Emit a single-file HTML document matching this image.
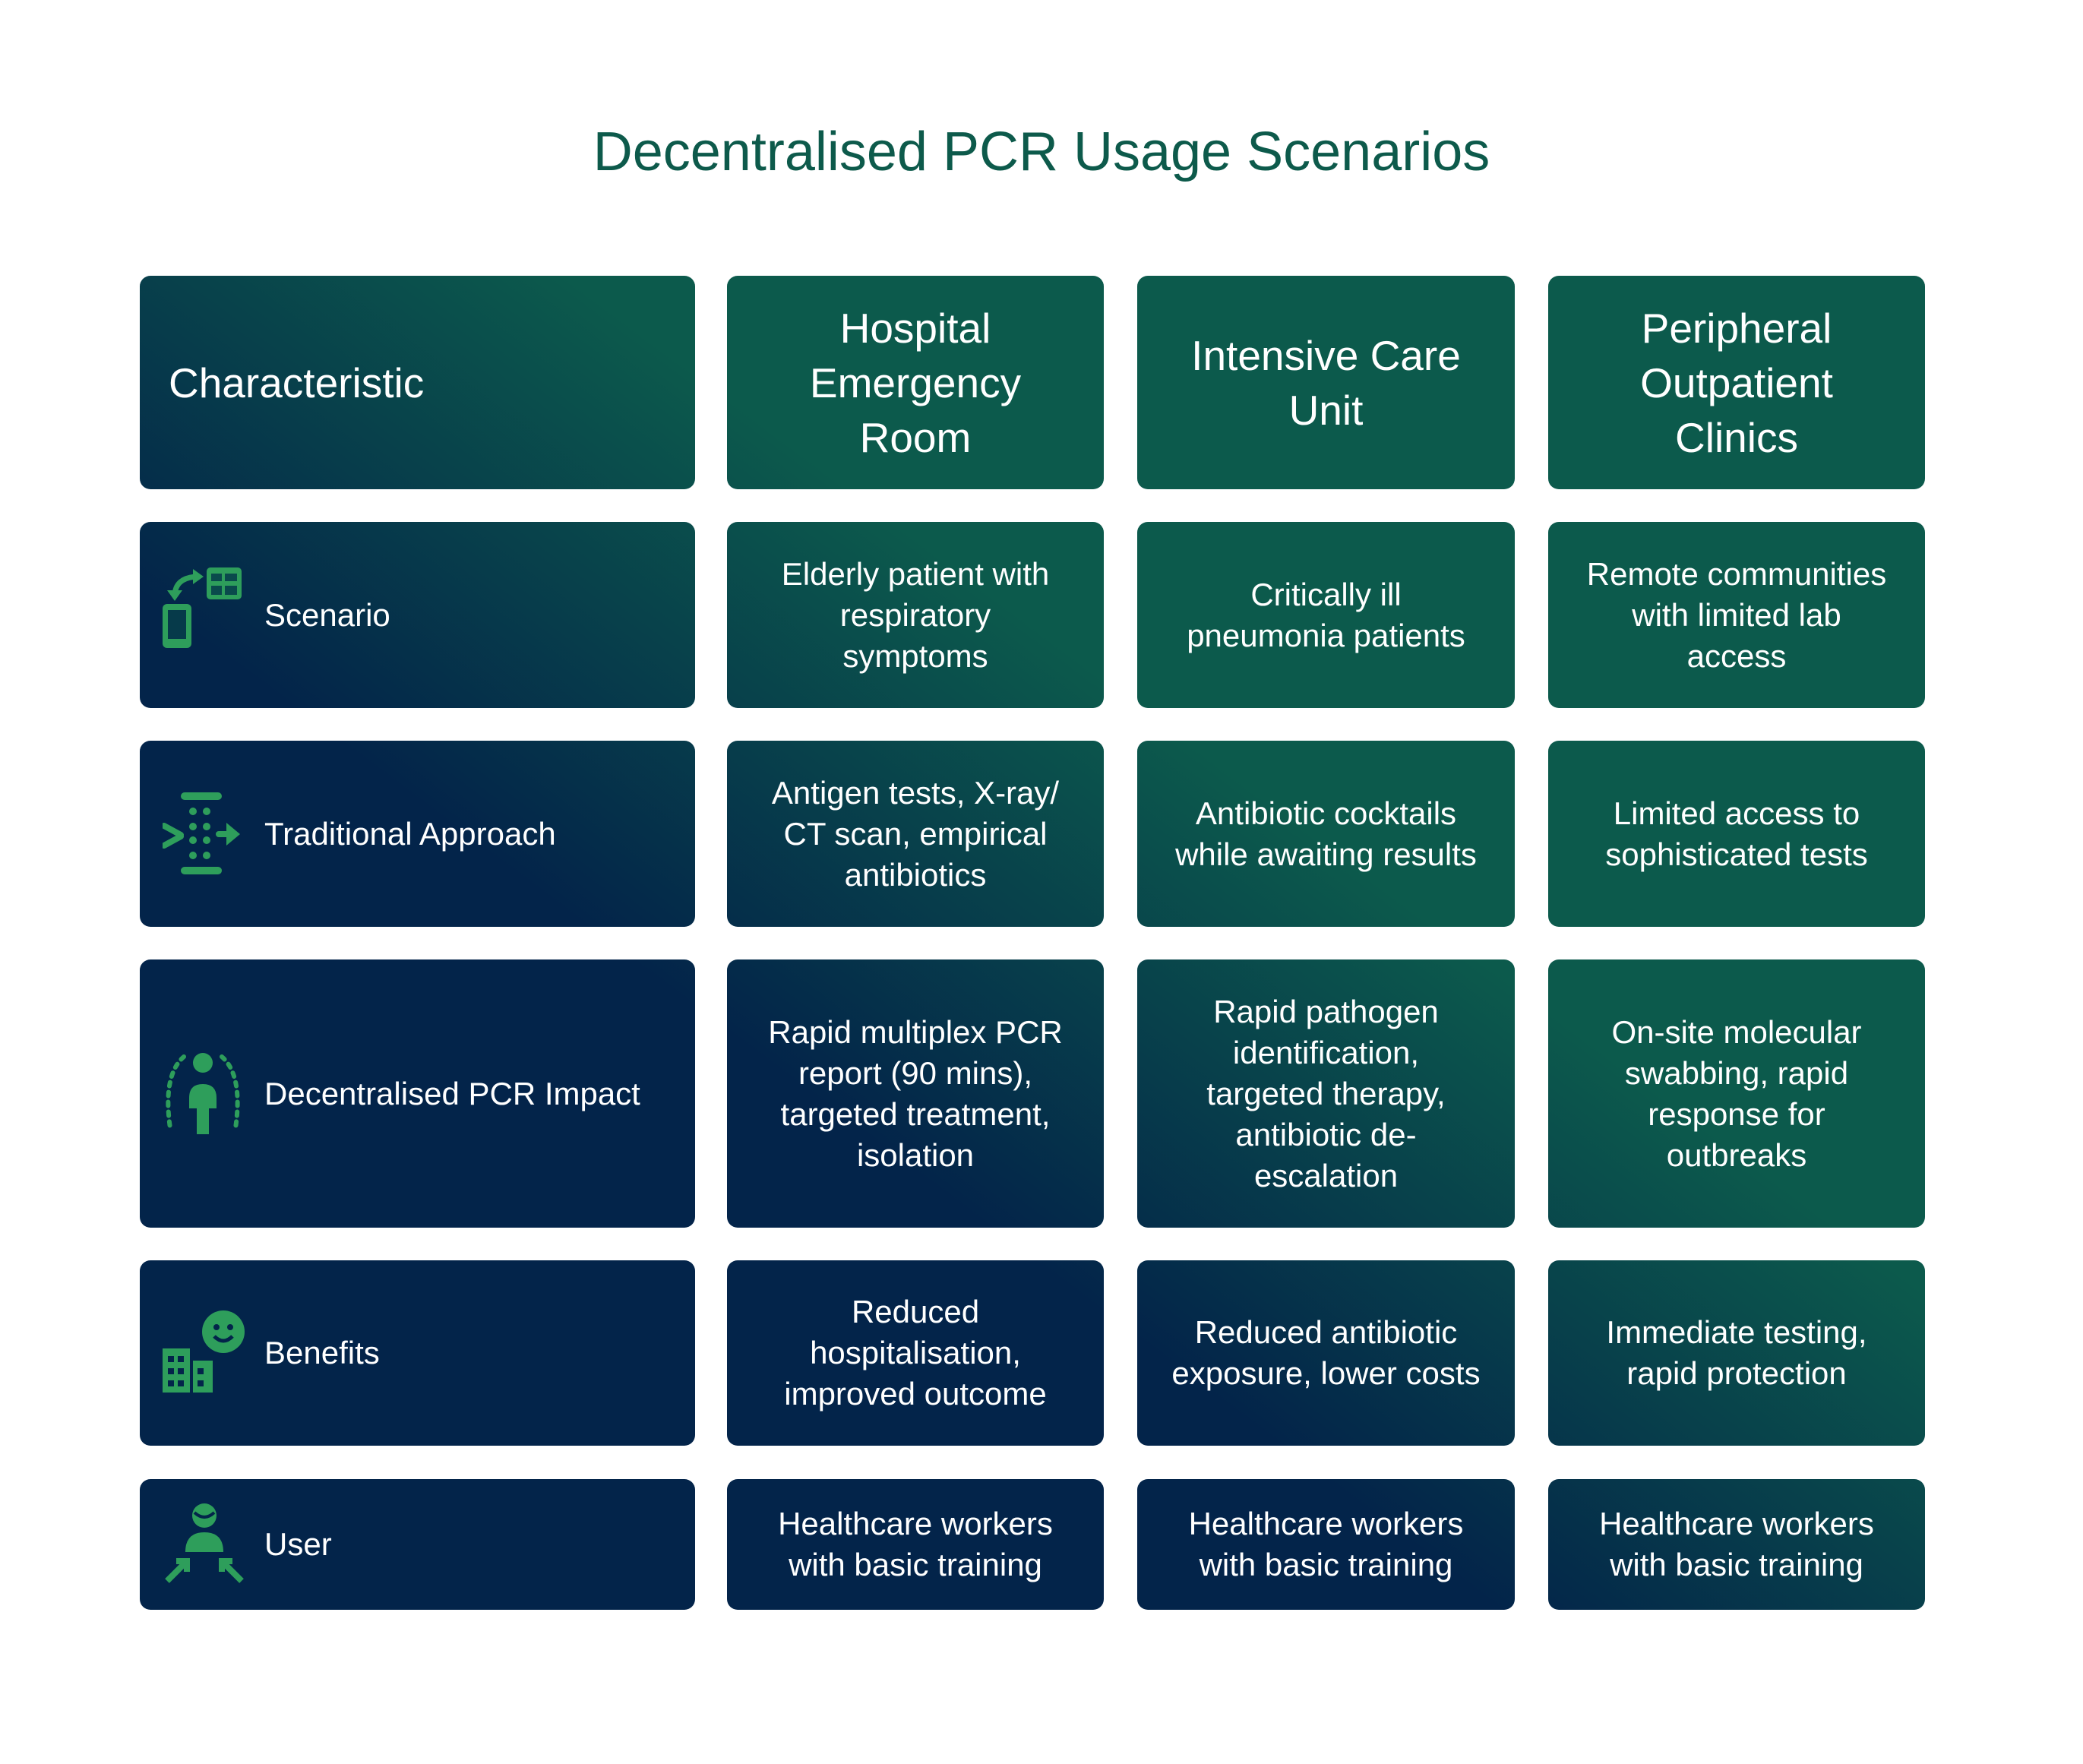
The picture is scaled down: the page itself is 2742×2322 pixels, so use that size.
<!DOCTYPE html>
<html><head><meta charset="utf-8"><style>
html,body{margin:0;padding:0;background:#fff;}
body{width:2742px;height:2322px;position:relative;overflow:hidden;font-family:"Liberation Sans",sans-serif;}
.t{position:absolute;left:0;width:2742px;top:150px;text-align:center;font-size:72px;color:#0d5a4b;line-height:100px;}
.c{position:absolute;border-radius:14px;color:#fff;display:flex;align-items:center;justify-content:center;text-align:center;white-space:nowrap;
background-image:linear-gradient(to top right,#03244a 0%,#03244a 38%,#0c5a4c 62%,#0c5a4c 100%);background-size:2350px 1756px;background-repeat:no-repeat;}
.b{font-size:42px;line-height:54px;}
.h{font-size:55px;line-height:72px;}
.l{justify-content:flex-start;text-align:left;font-size:42px;}
.l span{position:absolute;left:164px;}
.l svg{position:absolute;left:30px;}
</style></head><body>
<div class="t">Decentralised PCR Usage Scenarios</div>

<div class="c h" style="left:184px;top:363px;width:731px;height:281px;background-position:0 0;justify-content:flex-start;padding-left:38px;box-sizing:border-box">Characteristic</div>
<div class="c h" style="left:957px;top:363px;width:496px;height:281px;background-position:-773px 0">Hospital<br>Emergency<br>Room</div>
<div class="c h" style="left:1497px;top:363px;width:497px;height:281px;background-position:-1313px 0">Intensive Care<br>Unit</div>
<div class="c h" style="left:2038px;top:363px;width:496px;height:281px;background-position:-1854px 0">Peripheral<br>Outpatient<br>Clinics</div>

<div class="c l" style="left:184px;top:687px;width:731px;height:245px;background-position:0 -324px">
<svg width="110" height="110" viewBox="0 0 110 110" style="top:60px" fill="#2e9e5b"><rect x="0" y="48" width="38" height="58" rx="6"/><rect x="7" y="56" width="24" height="38" fill="#063a4a"/><rect x="58" y="0" width="46" height="42" rx="5"/><rect x="64" y="8" width="14" height="10" fill="#0a4a4c"/><rect x="82" y="8" width="16" height="10" fill="#0a4a4c"/><rect x="64" y="24" width="14" height="12" fill="#0a4a4c"/><rect x="82" y="24" width="16" height="12" fill="#0a4a4c"/><path d="M16 38 Q16 14 44 12" stroke="#2e9e5b" stroke-width="7" fill="none"/><path d="M40 2 L54 12 L40 22Z"/><path d="M6 30 L16 44 L26 30Z"/></svg>
<span>Scenario</span></div>
<div class="c b" style="left:957px;top:687px;width:496px;height:245px;background-position:-773px -324px">Elderly patient with<br>respiratory<br>symptoms</div>
<div class="c b" style="left:1497px;top:687px;width:497px;height:245px;background-position:-1313px -324px">Critically ill<br>pneumonia patients</div>
<div class="c b" style="left:2038px;top:687px;width:496px;height:245px;background-position:-1854px -324px">Remote communities<br>with limited lab<br>access</div>

<div class="c l" style="left:184px;top:975px;width:731px;height:245px;background-position:0 -612px">
<svg width="110" height="110" viewBox="0 0 110 110" style="top:68px" fill="#2e9e5b"><rect x="24" y="0" width="54" height="10" rx="5"/><rect x="24" y="98" width="54" height="10" rx="5"/><circle cx="40" cy="25" r="5"/><circle cx="58" cy="25" r="5"/><circle cx="40" cy="45" r="5"/><circle cx="58" cy="45" r="5"/><circle cx="40" cy="63" r="5"/><circle cx="58" cy="63" r="5"/><circle cx="40" cy="83" r="5"/><circle cx="58" cy="83" r="5"/><path d="M2 44 L24 56 M2 70 L24 58" stroke="#2e9e5b" stroke-width="8" stroke-linecap="round"/><rect x="70" y="51" width="18" height="8" rx="4"/><path d="M84 40 L102 55 L84 70Z"/></svg>
<span>Traditional Approach</span></div>
<div class="c b" style="left:957px;top:975px;width:496px;height:245px;background-position:-773px -612px">Antigen tests, X-ray/<br>CT scan, empirical<br>antibiotics</div>
<div class="c b" style="left:1497px;top:975px;width:497px;height:245px;background-position:-1313px -612px">Antibiotic cocktails<br>while awaiting results</div>
<div class="c b" style="left:2038px;top:975px;width:496px;height:245px;background-position:-1854px -612px">Limited access to<br>sophisticated tests</div>

<div class="c l" style="left:184px;top:1263px;width:731px;height:353px;background-position:0 -900px">
<svg width="110" height="110" viewBox="0 0 110 110" style="top:122px" fill="#2e9e5b"><circle cx="53" cy="14" r="13"/><path d="M35 60 Q35 42 53 42 Q71 42 71 60 L71 74 L61 74 L61 108 L45 108 L45 74 L35 74Z"/><g stroke="#2e9e5b" stroke-width="6" stroke-dasharray="5 8" stroke-linecap="round" fill="none"><path d="M28 6 Q0 30 10 100"/><path d="M78 6 Q106 30 96 100"/></g></svg>
<span>Decentralised PCR Impact</span></div>
<div class="c b" style="left:957px;top:1263px;width:496px;height:353px;background-position:-773px -900px">Rapid multiplex PCR<br>report (90 mins),<br>targeted treatment,<br>isolation</div>
<div class="c b" style="left:1497px;top:1263px;width:497px;height:353px;background-position:-1313px -900px">Rapid pathogen<br>identification,<br>targeted therapy,<br>antibiotic de-<br>escalation</div>
<div class="c b" style="left:2038px;top:1263px;width:496px;height:353px;background-position:-1854px -900px">On-site molecular<br>swabbing, rapid<br>response for<br>outbreaks</div>

<div class="c l" style="left:184px;top:1659px;width:731px;height:244px;background-position:0 -1296px">
<svg width="110" height="110" viewBox="0 0 110 110" style="top:66px" fill="#2e9e5b"><circle cx="80" cy="28" r="28"/><circle cx="71" cy="22" r="4" fill="#03244a"/><circle cx="89" cy="22" r="4" fill="#03244a"/><path d="M68 34 Q80 46 92 34" stroke="#03244a" stroke-width="5" fill="none"/><rect x="0" y="50" width="36" height="58"/><rect x="40" y="66" width="26" height="42"/><g fill="#03244a"><rect x="7" y="60" width="8" height="8"/><rect x="20" y="60" width="8" height="8"/><rect x="7" y="76" width="8" height="8"/><rect x="20" y="76" width="8" height="8"/><rect x="7" y="92" width="8" height="8"/><rect x="20" y="92" width="8" height="8"/><rect x="46" y="76" width="8" height="8"/><rect x="46" y="92" width="8" height="8"/></g></svg>
<span>Benefits</span></div>
<div class="c b" style="left:957px;top:1659px;width:496px;height:244px;background-position:-773px -1296px">Reduced<br>hospitalisation,<br>improved outcome</div>
<div class="c b" style="left:1497px;top:1659px;width:497px;height:244px;background-position:-1313px -1296px">Reduced antibiotic<br>exposure, lower costs</div>
<div class="c b" style="left:2038px;top:1659px;width:496px;height:244px;background-position:-1854px -1296px">Immediate testing,<br>rapid protection</div>

<div class="c l" style="left:184px;top:1947px;width:731px;height:172px;background-position:0 -1584px">
<svg width="110" height="110" viewBox="0 0 110 110" style="top:30px" fill="#2e9e5b"><circle cx="55" cy="18" r="16"/><path d="M42 14 Q55 26 68 14" stroke="#03244a" stroke-width="4" fill="none"/><path d="M30 66 Q30 40 55 40 Q80 40 80 66Z"/><path d="M6 104 L30 80 M18 78 L32 78 L32 92" stroke="#2e9e5b" stroke-width="8" fill="none"/><path d="M104 104 L80 80 M92 78 L78 78 L78 92" stroke="#2e9e5b" stroke-width="8" fill="none"/></svg>
<span>User</span></div>
<div class="c b" style="left:957px;top:1947px;width:496px;height:172px;background-position:-773px -1584px">Healthcare workers<br>with basic training</div>
<div class="c b" style="left:1497px;top:1947px;width:497px;height:172px;background-position:-1313px -1584px">Healthcare workers<br>with basic training</div>
<div class="c b" style="left:2038px;top:1947px;width:496px;height:172px;background-position:-1854px -1584px">Healthcare workers<br>with basic training</div>
</body></html>
